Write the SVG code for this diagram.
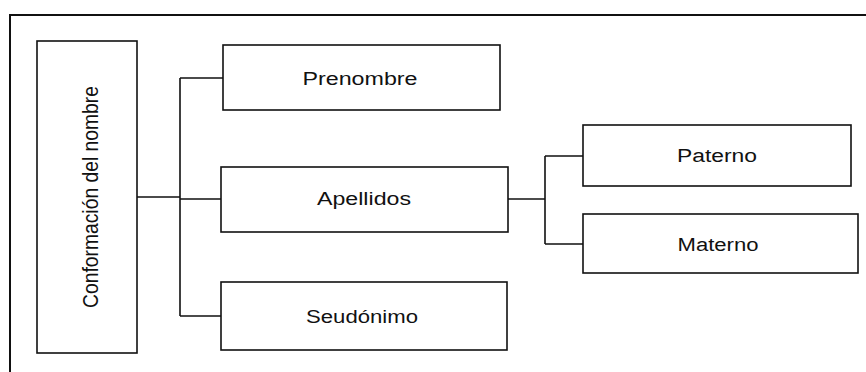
<svg xmlns="http://www.w3.org/2000/svg" width="866" height="372" viewBox="0 0 866 372">
<style>
.box{fill:#fff;stroke:#111;stroke-width:1.6}
.lbl{font-family:"Liberation Sans",Arial,sans-serif;font-size:18px;fill:#111;text-anchor:middle}
.con{fill:none;stroke:#111;stroke-width:1.6}
</style>
<rect width="866" height="372" fill="#fff"/>
<path d="M10 372 V15 H866" fill="none" stroke="#111" stroke-width="2"/>
<g id="connectors">
<path class="con" d="M137 197 H180 M180 78 V316 M180 78 H223 M180 199 H221 M180 316 H221"/>
<path class="con" d="M508 199 H545" stroke-width="2.2"/>
<path class="con" d="M545 156 V244 M545 156 H583 M545 244 H583"/>
</g>
<g id="n-main">
<rect class="box" x="37" y="41" width="100" height="312"/>
<text class="lbl" font-size="19.3" transform="translate(98 197) scale(1.2 1) rotate(-90)" textLength="222" lengthAdjust="spacingAndGlyphs">Conformación del nombre</text>
</g>
<g id="n-prenombre">
<rect class="box" x="223" y="45" width="277" height="65"/>
<text class="lbl" x="360" y="85" textLength="115" lengthAdjust="spacingAndGlyphs">Prenombre</text>
</g>
<g id="n-apellidos">
<rect class="box" x="221" y="167" width="287" height="65"/>
<text class="lbl" x="364" y="205" textLength="94" lengthAdjust="spacingAndGlyphs">Apellidos</text>
</g>
<g id="n-seudonimo">
<rect class="box" x="221" y="282" width="286" height="68"/>
<text class="lbl" x="362" y="323" textLength="112" lengthAdjust="spacingAndGlyphs">Seudónimo</text>
</g>
<g id="n-paterno">
<rect class="box" x="583" y="125" width="268" height="61"/>
<text class="lbl" x="717" y="162" textLength="80" lengthAdjust="spacingAndGlyphs">Paterno</text>
</g>
<g id="n-materno">
<rect class="box" x="583" y="214" width="275" height="59"/>
<text class="lbl" x="718" y="251" textLength="81" lengthAdjust="spacingAndGlyphs">Materno</text>
</g>
</svg>
